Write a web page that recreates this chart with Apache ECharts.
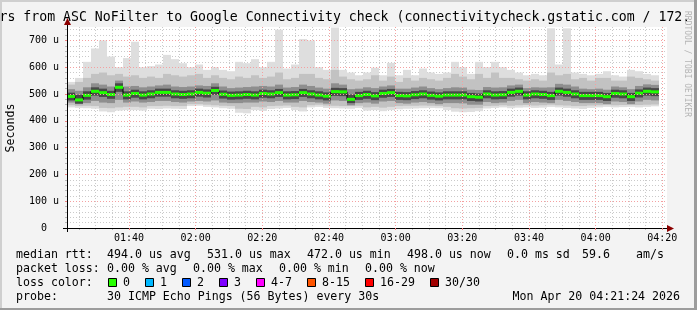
<!DOCTYPE html>
<html>
<head>
<meta charset="utf-8">
<script src="https://cdn.jsdelivr.net/npm/echarts@6.0.0/dist/echarts.min.js"></script>
<style>
html,body{margin:0;padding:0;background:#f3f3f3;}
#c{width:697px;height:310px;}
</style>
</head>
<body>
<div id="c"></div>
<script>
// ---- time grid (seconds since midnight) ----
const startSec = 4884;      // 01:21:24
const endSec = 15684;       // 04:21:24
const stepSec = 144;        // one smoke column
const majorTicks = [6000, 7200, 8400, 9600, 10800, 12000, 13200, 14400, 15600];
const minorTicks = [5100, 5400, 5700, 6300, 6600, 6900, 7500, 7800, 8100, 8700, 9000, 9300,
  9900, 10200, 10500, 11100, 11400, 11700, 12300, 12600, 12900, 13500, 13800, 14100, 14700, 15000, 15300];
const yMajor = [0, 100, 200, 300, 400, 500, 600, 700];
const yMinor = [20, 40, 60, 80, 120, 140, 160, 180, 220, 240, 260, 280, 320, 340, 360, 380,
  420, 440, 460, 480, 520, 540, 560, 580, 620, 640, 660, 680, 720, 740];

// ---- values in microseconds ----
const median = [
  491,478,495,510,505,498,525,496,502,496,500,506,506,500,498,
  500,506,503,513,499,495,496,498,496,502,500,505,496,497,505,
  500,496,492,509,508,480,494,498,493,502,505,494,493,497,500,
  495,492,496,496,496,490,488,500,496,497,506,510,496,500,498,
  494,510,506,500,494,494,494,490,502,500,490,503,510,508];
const pingMax = [
  545,560,620,670,700,640,600,634,695,600,604,610,646,630,615,
  600,610,590,600,590,585,620,615,630,600,620,740,595,610,705,
  700,600,590,748,590,580,570,580,598,570,616,570,590,570,595,
  580,575,580,620,600,575,620,600,620,600,590,580,570,575,570,
  745,610,745,580,575,570,575,585,570,565,590,585,575,570];
const pingMin = [
  450,448,447,445,435,432,438,440,440,438,445,444,446,445,444,
  455,456,452,450,447,445,430,428,440,437,444,446,448,440,435,
  450,452,448,447,446,445,448,438,440,436,440,443,445,446,447,
  448,447,440,434,432,433,436,446,448,450,447,449,450,448,449,
  452,450,448,446,444,448,450,452,450,451,452,450,452,454];
const lightHi = [
  535,545,560,575,580,570,575,565,570,560,565,560,575,570,565,
  570,575,560,570,560,555,565,560,570,560,565,580,555,560,575,
  575,560,555,590,565,555,550,555,570,550,565,545,560,550,560,
  555,550,560,575,565,555,575,560,580,560,560,555,550,555,550,
  580,570,575,555,560,550,560,560,550,550,565,560,555,550];
const lightLo = [
  458,455,456,455,448,447,450,452,452,450,455,455,456,455,455,
  462,462,460,458,456,455,445,444,452,450,455,456,457,452,450,
  458,460,457,456,455,455,456,450,452,449,452,455,456,456,457,
  456,455,452,447,446,447,448,455,456,458,456,458,459,457,458,
  460,458,457,455,455,457,458,460,458,459,460,459,460,461];
const midHi = [
  518,512,525,540,535,528,550,528,530,525,528,532,535,528,526,
  528,532,530,540,528,522,524,526,528,530,528,535,524,526,535,
  530,524,520,540,535,518,520,525,522,528,532,520,520,524,528,
  522,518,522,525,524,516,515,526,524,525,532,535,522,525,524,
  525,538,535,528,520,518,520,516,528,525,518,530,536,534];
const midLo = [
  468,462,466,474,468,466,478,468,472,468,470,474,474,470,468,
  472,474,472,476,468,466,466,468,468,472,470,474,468,468,474,
  470,468,464,476,474,458,466,468,464,472,474,466,464,468,470,
  466,462,466,466,465,460,460,470,466,468,474,478,466,470,468,
  466,478,474,470,466,466,466,462,472,470,462,472,478,476];
const darkHi = [
  505,497,510,525,520,512,540,510,516,510,514,520,520,514,512,
  514,520,517,527,513,509,510,512,510,516,514,519,510,511,519,
  514,510,506,523,522,498,508,512,507,516,519,508,507,511,514,
  509,506,510,510,510,504,502,514,510,511,520,524,510,514,512,
  508,524,520,514,508,508,508,504,516,514,504,517,524,522];
const darkLo = [
  476,464,479,494,489,482,508,480,486,480,484,490,490,484,482,
  484,490,487,497,483,479,480,482,480,486,484,489,480,481,489,
  484,480,476,493,492,466,478,482,477,486,489,478,477,481,484,
  479,476,480,480,480,474,472,484,480,481,490,494,480,484,482,
  478,494,490,484,478,478,478,474,486,484,474,487,494,492];

// ---- legend texts ----
const titleText = 'rs from ASC NoFilter to Google Connectivity check (connectivitycheck.gstatic.com / 172.';
const rttRow = [['median rtt:',16],['494.0 us avg',107],['531.0 us max',207],['472.0 us min',307],['498.0 us now',407],['0.0 ms sd',507],['59.6',582],['am/s',636]];
const lossRow = [['packet loss:',16],['0.00 % avg',107],['0.00 % max',193],['0.00 % min',279],['0.00 % now',365]];
const lossLabels = ['0','1','2','3','4-7','8-15','16-29','30/30'];
const lossColors = ['#26ff00','#00b8ff','#0059ff','#7e00ff','#ff00ff','#ff5500','#ff0000','#a10000'];
const lossX = [108,145,182,219,256,307,365,430];
const probeText = '30 ICMP Echo Pings (56 Bytes) every 30s';
const dateText = 'Mon Apr 20 04:21:24 2026';

const FONT = 'DejaVu Sans Mono';

const smokeData = median.map((m, i) => [
  startSec + i * stepSec, startSec + (i + 1) * stepSec,
  pingMin[i], pingMax[i], lightLo[i], lightHi[i], midLo[i], midHi[i], darkLo[i], darkHi[i]
]);
const medData = median.map((m, i) => [
  startSec + i * stepSec, startSec + (i + 1) * stepSec, m,
  i + 1 < median.length ? median[i + 1] : m
]);

function hhmm(v) {
  const h = Math.floor(v / 3600), m = Math.floor((v % 3600) / 60);
  return String(h).padStart(2, '0') + ':' + String(m).padStart(2, '0');
}

const chart = echarts.init(document.getElementById('c'), null, {renderer: 'canvas'});

const graphics = [
  {type:'rect', shape:{x:0,y:0,width:697,height:2}, style:{fill:'#cfcfcf'}, z:-10},
  {type:'rect', shape:{x:0,y:0,width:2,height:310}, style:{fill:'#cfcfcf'}, z:-10},
  {type:'rect', shape:{x:0,y:308,width:697,height:2}, style:{fill:'#9c9c9c'}, z:-10},
  {type:'rect', shape:{x:694,y:0,width:3,height:310}, style:{fill:'#9c9c9c'}, z:-10},
  {type:'text', x:-0.5, y:18, style:{text:titleText, font:'13.2px "'+FONT+'"', fill:'#000', textAlign:'left', textVerticalAlign:'middle'}},
  {type:'text', x:11, y:128, rotation:Math.PI/2, style:{text:'Seconds', font:'11.6px "'+FONT+'"', fill:'#000', textAlign:'center', textVerticalAlign:'middle'}},
  {type:'text', x:687, y:64, rotation:-Math.PI/2, style:{text:'RRDTOOL / TOBI OETIKER', font:'8px "'+FONT+'"', fill:'#b4b4b4', textAlign:'center', textVerticalAlign:'middle'}},
  // axis extensions and arrows
  {type:'line', shape:{x1:67.5,y1:21,x2:67.5,y2:27}, style:{stroke:'#000',lineWidth:1}, z:50},
  {type:'line', shape:{x1:67.5,y1:228,x2:67.5,y2:232}, style:{stroke:'#000',lineWidth:1}, z:50},
  {type:'line', shape:{x1:63,y1:228.5,x2:67,y2:228.5}, style:{stroke:'#000',lineWidth:1}, z:50},
  {type:'line', shape:{x1:667,y1:228.5,x2:671,y2:228.5}, style:{stroke:'#000',lineWidth:1}, z:50},
  {type:'polygon', shape:{points:[[67.5,18],[64,25],[71,25]]}, style:{fill:'#8b0000'}, z:51},
  {type:'polygon', shape:{points:[[674,228.5],[667,225],[667,232]]}, style:{fill:'#8b0000'}, z:51}
];
function addText(t, x, y, align) {
  graphics.push({type:'text', x:x, y:y, style:{text:t, font:'11.6px "'+FONT+'"', fill:'#000', textAlign:align||'left', textVerticalAlign:'middle'}});
}
rttRow.forEach(r => addText(r[0], r[1], 254.5));
lossRow.forEach(r => addText(r[0], r[1], 268.5));
addText('loss color:', 16, 282.5);
lossLabels.forEach((l, i) => {
  graphics.push({type:'rect', shape:{x:lossX[i]+0.5, y:278.5, width:8, height:8}, style:{fill:lossColors[i], stroke:'#000', lineWidth:1}});
  addText(l, lossX[i] + 15, 282.5);
});
addText('probe:', 16, 296.5);
addText(probeText, 107, 296.5);
addText(dateText, 680, 296.5, 'right');

const option = {
  animation: false,
  backgroundColor: '#f3f3f3',
  grid: {left: 67, top: 27, right: 30, bottom: 82, show: true, backgroundColor: '#ffffff', borderWidth: 0},
  xAxis: [
    {
      type: 'value', min: startSec, max: endSec, position: 'bottom',
      axisLine: {show: true, onZero: false, lineStyle: {color: '#000', width: 1}},
      axisTick: {show: true, length: 2, customValues: majorTicks, lineStyle: {color: '#f08080'}},
      axisLabel: {customValues: majorTicks, formatter: hhmm, margin: 5, fontFamily: FONT, fontSize: 10, color: '#000'},
      splitLine: {show: true, lineStyle: {color: '#f4a0a0', type: [1, 2], width: 1}},
      z: 10
    },
    {
      type: 'value', min: startSec, max: endSec, position: 'bottom',
      axisLine: {show: false},
      axisTick: {show: true, length: 2, customValues: minorTicks, lineStyle: {color: '#b8b8b8'}},
      axisLabel: {show: false},
      splitLine: {show: true, lineStyle: {color: '#cacaca', type: [1, 2], width: 1}}
    }
  ],
  yAxis: [
    {
      type: 'value', min: 0, max: 750, position: 'left',
      axisLine: {show: true, onZero: false, lineStyle: {color: '#000', width: 1}},
      axisTick: {show: true, length: 2, customValues: yMajor, lineStyle: {color: '#f08080'}},
      axisLabel: {customValues: yMajor, formatter: v => v === 0 ? '0  ' : v + ' u', margin: 8, fontFamily: FONT, fontSize: 10, color: '#000'},
      splitLine: {show: true, lineStyle: {color: '#f4a0a0', type: [1, 2], width: 1}},
      z: 10
    },
    {
      type: 'value', min: 0, max: 750, position: 'left',
      axisLine: {show: false},
      axisTick: {show: true, length: 2, customValues: yMinor, lineStyle: {color: '#b8b8b8'}},
      axisLabel: {show: false},
      splitLine: {show: true, lineStyle: {color: '#cacaca', type: [1, 2], width: 1}}
    }
  ],
  series: [
    {
      type: 'custom', xAxisIndex: 0, yAxisIndex: 0, silent: true, data: smokeData,
      renderItem: function (params, api) {
        const t0 = api.value(0), t1 = api.value(1);
        function band(lo, hi, color) {
          const a = api.coord([t0, hi]), b = api.coord([t1, lo]);
          return {type: 'rect', shape: {x: a[0], y: a[1], width: b[0] - a[0], height: b[1] - a[1]}, style: {fill: color}};
        }
        return {type: 'group', children: [
          band(api.value(2), api.value(3), '#dedede'),
          band(api.value(4), api.value(5), '#c2c2c2'),
          band(api.value(6), api.value(7), '#8e8e8e'),
          band(api.value(8), api.value(9), '#484848')
        ]};
      }
    },
    {
      type: 'custom', xAxisIndex: 0, yAxisIndex: 0, silent: true, data: medData, z: 5,
      renderItem: function (params, api) {
        const t0 = api.value(0), t1 = api.value(1);
        const a = api.coord([t0, api.value(2)]), b = api.coord([t1, api.value(2)]);
        const n = api.coord([t1, api.value(3)]);
        return {type: 'group', children: [
          {type: 'line', shape: {x1: b[0], y1: b[1], x2: n[0], y2: n[1]}, style: {stroke: '#000', lineWidth: 1}},
          {type: 'rect', shape: {x: a[0], y: a[1] - 1.5, width: b[0] - a[0], height: 3}, style: {fill: '#20ff00'}}
        ]};
      }
    }
  ],
  graphic: graphics
};
chart.setOption(option);
</script>
</body>
</html>
